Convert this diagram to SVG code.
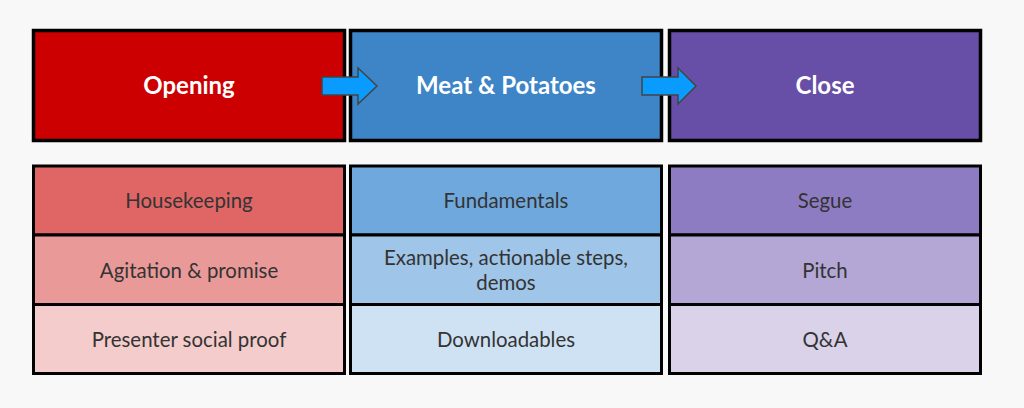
<svg xmlns="http://www.w3.org/2000/svg" width="1024" height="408" viewBox="0 0 1024 408">
<style>
.box{stroke:#000;stroke-width:3.5;}
.cell{stroke:#000;stroke-width:3;}
.h{font-family:Lato,"Open Sans","Liberation Sans",sans-serif;font-weight:bold;font-size:24px;fill:#fff;text-anchor:middle;}
.t{font-family:Lato,"Open Sans","Liberation Sans",sans-serif;font-size:20.4px;fill:#333;text-anchor:middle;}
.arrow{fill:#0a9bff;stroke:#444;stroke-width:1.5;stroke-linejoin:miter;}
</style>
<rect width="1024" height="408" fill="#f8f8f8"/>
<g id="opening">
<rect class="box" x="33.5" y="30.5" width="311" height="110" fill="#cc0000"/>
<text class="h" x="189" y="94">Opening</text>
</g>
<g id="meat">
<rect class="box" x="350.5" y="30.5" width="311" height="110" fill="#3d85c6"/>
<text class="h" x="506" y="94">Meat &amp; Potatoes</text>
</g>
<g id="close">
<rect class="box" x="669.5" y="30.5" width="311" height="110" fill="#674ea7"/>
<text class="h" x="825" y="94">Close</text>
</g>
<g id="opening-items">
<rect class="cell" x="33.5" y="166" width="311" height="69" fill="#e06666"/>
<text class="t" x="189" y="208">Housekeeping</text>
<rect class="cell" x="33.5" y="235" width="311" height="69.5" fill="#ea9999"/>
<text class="t" x="189" y="278">Agitation &amp; promise</text>
<rect class="cell" x="33.5" y="304.5" width="311" height="69" fill="#f4cccc"/>
<text class="t" x="189" y="347">Presenter social proof</text>
</g>
<g id="meat-items">
<rect class="cell" x="350.5" y="166" width="311" height="69" fill="#6fa8dc"/>
<text class="t" x="506" y="208">Fundamentals</text>
<rect class="cell" x="350.5" y="235" width="311" height="69.5" fill="#9fc5e8"/>
<text class="t" x="506" y="265">Examples, actionable steps,</text>
<text class="t" x="506" y="290">demos</text>
<rect class="cell" x="350.5" y="304.5" width="311" height="69" fill="#cfe2f3"/>
<text class="t" x="506" y="347">Downloadables</text>
</g>
<g id="close-items">
<rect class="cell" x="669.5" y="166" width="311" height="69" fill="#8e7cc3"/>
<text class="t" x="825" y="208">Segue</text>
<rect class="cell" x="669.5" y="235" width="311" height="69.5" fill="#b4a7d6"/>
<text class="t" x="825" y="278">Pitch</text>
<rect class="cell" x="669.5" y="304.5" width="311" height="69" fill="#d9d2e9"/>
<text class="t" x="825" y="347">Q&amp;A</text>
</g>
<g id="connectors">
<path class="arrow" d="M322,77 H358 V68 L377,86 L358,104 V95 H322 Z"/>
<path class="arrow" d="M642,77 H678 V68 L696,86 L678,104 V95 H642 Z"/>
</g>
</svg>
